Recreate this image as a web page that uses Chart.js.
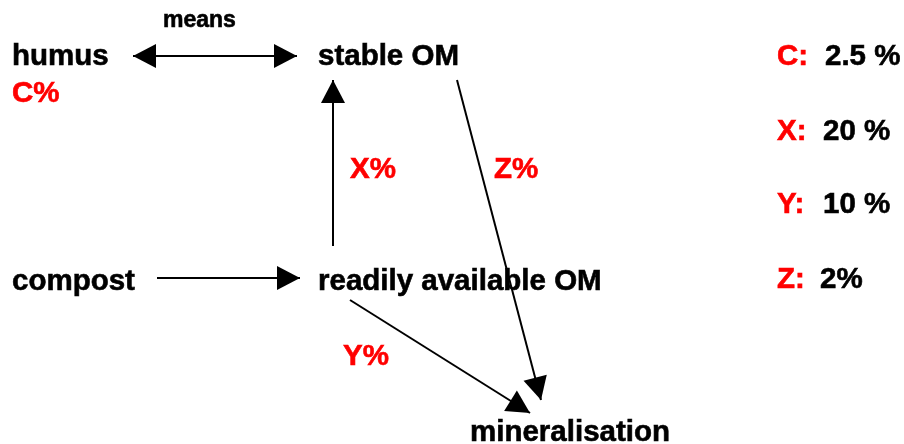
<!DOCTYPE html>
<html lang="en">
<head>
    <meta charset="UTF-8">
    <title>humus / compost diagram</title>
    <script src="https://cdn.jsdelivr.net/npm/chart.js"></script>
    <style>
        body { margin: 0; background: #ffffff; }
        canvas { display: block; }
    </style>
</head>
<body>

<canvas id="myChart" width="904" height="444"></canvas>

<script>
// boxes of the diagram (x,y in diagram units, y = text baseline)
const nodeLabels = ['humus', 'stable OM', 'compost', 'readily available OM', 'mineralisation'];
const nodeX = [12, 318, 12, 318, 470];
const nodeY = [65, 65, 290, 290, 441];

// red rate labels next to the arrows
const rateLabels = ['C%', 'X%', 'Z%', 'Y%'];
const rateX = [12, 350, 494, 343];
const rateY = [102, 178, 178, 365];

// key on the right
const keyLetters = ['C:', 'X:', 'Y:', 'Z:'];
const keyValues = ['2.5 %', '20 %', '10 %', '2%'];
const keyValueX = [825, 823, 823, 820];
const keyY = [65, 140, 213, 288];

// arrows: from -> to (tip), double = head on both ends
const arrowFromX = [133, 157, 333, 457, 350];
const arrowFromY = [56, 278, 246, 80, 300];
const arrowToX = [297, 300, 333, 541, 530];
const arrowToY = [56, 278, 80, 400, 413];
const arrowDouble = [true, false, false, false, false];

const arrowLabel = 'means';

var datasets = []
for (var i = 0; i < arrowFromX.length; i++) {
    datasets.push({
        data: [{x: arrowFromX[i], y: arrowFromY[i]}, {x: arrowToX[i], y: arrowToY[i]}],
        showLine: true,
        borderColor: '#000000',
        borderWidth: 2,
        pointRadius: 0,
        fill: false
    })
}

function head(ctx, x1, y1, x2, y2) {
    // triangle pointing at x2,y2
    var a = Math.atan2(y2 - y1, x2 - x1)
    var len = 23, w = 12
    ctx.beginPath()
    ctx.moveTo(x2, y2)
    ctx.lineTo(x2 - len * Math.cos(a) + w * Math.sin(a), y2 - len * Math.sin(a) - w * Math.cos(a))
    ctx.lineTo(x2 - len * Math.cos(a) - w * Math.sin(a), y2 - len * Math.sin(a) + w * Math.cos(a))
    ctx.closePath()
    ctx.fill()
}

// bold text, a hair heavier like the original
function txt(ctx, s, x, y, color) {
    ctx.fillStyle = color
    ctx.strokeStyle = color
    ctx.lineWidth = 0.6
    ctx.fillText(s, x, y)
    ctx.strokeText(s, x, y)
}

const diagramPlugin = {
    id: 'diagram',
    afterDraw(chart) {
        const ctx = chart.ctx
        const sx = chart.scales.x, sy = chart.scales.y
        ctx.save()
        ctx.fillStyle = '#000000'
        for (var i = 0; i < arrowFromX.length; i++) {
            var x1 = sx.getPixelForValue(arrowFromX[i]), y1 = sy.getPixelForValue(arrowFromY[i])
            var x2 = sx.getPixelForValue(arrowToX[i]), y2 = sy.getPixelForValue(arrowToY[i])
            head(ctx, x1, y1, x2, y2)
            if (arrowDouble[i]) head(ctx, x2, y2, x1, y1)
        }

        ctx.textBaseline = 'alphabetic'
        ctx.textAlign = 'left'
        ctx.font = 'bold 23px "Liberation Sans", Arial, sans-serif'
        txt(ctx, arrowLabel, sx.getPixelForValue(163), sy.getPixelForValue(27), '#000000')

        ctx.font = 'bold 29.5px "Liberation Sans", Arial, sans-serif'
        for (var i = 0; i < nodeLabels.length; i++) {
            txt(ctx, nodeLabels[i], sx.getPixelForValue(nodeX[i]), sy.getPixelForValue(nodeY[i]), '#000000')
        }
        for (var i = 0; i < rateLabels.length; i++) {
            txt(ctx, rateLabels[i], sx.getPixelForValue(rateX[i]), sy.getPixelForValue(rateY[i]), '#ff0000')
        }
        for (var i = 0; i < keyLetters.length; i++) {
            txt(ctx, keyLetters[i], sx.getPixelForValue(777), sy.getPixelForValue(keyY[i]), '#ff0000')
            txt(ctx, keyValues[i], sx.getPixelForValue(keyValueX[i]), sy.getPixelForValue(keyY[i]), '#000000')
        }
        ctx.restore()
    }
}

const config = {
    type: 'scatter',
    data: { datasets: datasets },
    options: {
        responsive: false,
        animation: false,
        layout: { padding: 0 },
        scales: {
            x: { type: 'linear', min: 0, max: 904, display: false },
            y: { type: 'linear', min: 0, max: 444, reverse: true, display: false }
        },
        plugins: {
            legend: { display: false },
            tooltip: { enabled: false }
        }
    },
    plugins: [diagramPlugin]
};

new Chart(document.getElementById('myChart'), config);
</script>

</body>
</html>
